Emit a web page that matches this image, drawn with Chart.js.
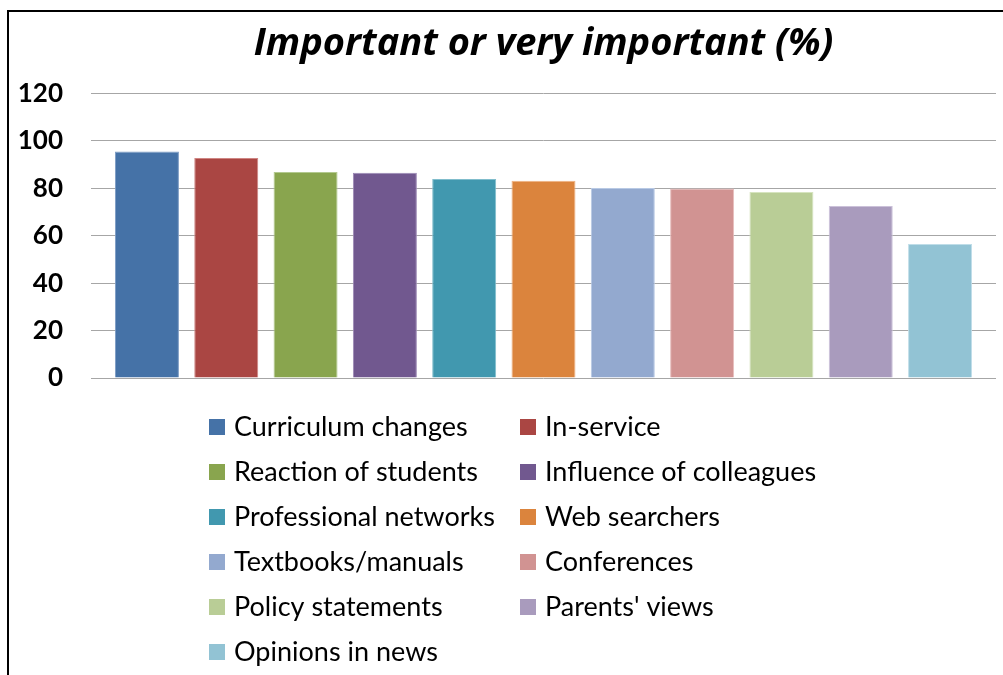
<!DOCTYPE html>
<html>
<head>
<meta charset="utf-8">
<title>Important or very important (%)</title>
<script src="https://cdn.jsdelivr.net/npm/chart.js@4.4.1/dist/chart.umd.min.js"></script>
<style>
    body { margin: 0; background: #fff; }
    #wrap { position: relative; width: 1003px; height: 675px; overflow: hidden; }
    #frame {
        position: absolute; left: 7px; top: 10px; right: 0; bottom: 0;
        border-left: 2px solid #000; border-top: 2px solid #000;
        pointer-events: none;
    }
</style>
</head>
<body>
<div id="wrap">
    <canvas id="myChart" width="1003" height="675"></canvas>
    <div id="frame"></div>
</div>
<script>
const sources = [
    'Curriculum changes', 'In-service', 'Reaction of students', 'Influence of colleagues',
    'Professional networks', 'Web searchers', 'Textbooks/manuals', 'Conferences',
    'Policy statements', "Parents' views", 'Opinions in news'
];
const percents = [95.6, 92.8, 86.9, 86.6, 84.0, 83.2, 80.2, 80.0, 78.5, 72.6, 56.5];
const yTicks = [0, 20, 40, 60, 80, 100, 120];

const fills = ['#4572A7', '#AA4643', '#89A54E', '#71588F', '#4198AF', '#DB843D',
               '#93A9CF', '#D19392', '#B9CD96', '#A99BBD', '#92C3D4'];
const edges = ['#7d9cc4', '#cf8583', '#b3c98f', '#9c89b5', '#80bdcc', '#f0b283',
               '#b8c9e4', '#e6bcbb', '#d6e4bf', '#cbc1d9', '#bfdde8'];

// two-column legend under the plot, drawn from the datasets
const gridLegend = {
    id: 'gridLegend',
    afterDraw(chart) {
        const c = chart.ctx;
        const colX = [209, 520];
        const top = 427, step = 45, box = 16;
        c.save();
        c.font = '27px Lato';
        c.textBaseline = 'middle';
        c.textAlign = 'left';
        chart.data.datasets.forEach(function(ds, i) {
            const x = colX[i % 2];
            const y = top + Math.floor(i / 2) * step;
            c.fillStyle = ds.backgroundColor;
            c.fillRect(x, y - box / 2, box, box);
            c.fillStyle = '#000';
            c.fillText(ds.label, x + 25, y);
        });
        c.restore();
    }
};

const ctx = document.getElementById('myChart');
new Chart(ctx, {
    type: 'bar',
    data: {
        labels: [''],
        datasets: sources.map(function(name, i) {
            return {
                label: name,
                data: [percents[i]],
                backgroundColor: fills[i],
                borderColor: edges[i],
                borderWidth: 1,
                categoryPercentage: 0.964,
                barPercentage: 0.807
            };
        })
    },
    options: {
        responsive: false,
        animation: false,
        layout: { padding: { left: 7, right: 7, top: 0, bottom: 297 } },
        plugins: {
            legend: { display: false },
            tooltip: { enabled: false },
            title: {
                display: true,
                fullSize: false,
                text: 'Important or very important (%)',
                color: '#000',
                font: { family: 'Open Sans', size: 38, weight: 'bold', style: 'italic' },
                padding: { top: 21, bottom: 27 }
            }
        },
        scales: {
            x: { display: false },
            y: {
                min: 0,
                max: 120,
                afterBuildTicks: function(scale) {
                    scale.ticks = yTicks.map(function(v) { return { value: v }; });
                },
                afterFit: function(scale) { scale.width = 84; },
                border: { display: false },
                grid: { color: '#a6a6a6', lineWidth: 1, drawTicks: false },
                ticks: {
                    color: '#000',
                    padding: 28,
                    font: { family: 'Lato', size: 26, weight: 'bold' }
                }
            }
        }
    },
    plugins: [gridLegend]
});
</script>
</body>
</html>
